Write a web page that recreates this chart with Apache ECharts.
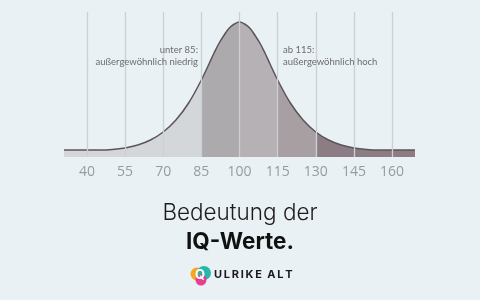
<!DOCTYPE html>
<html>
<head>
<meta charset="utf-8">
<script src="https://cdn.jsdelivr.net/npm/echarts@6/dist/echarts.min.js"></script>
<style>
html,body{margin:0;padding:0;background:#e9f1f4;}
#chart{width:480px;height:300px;}
</style>
</head>
<body>
<div id="chart"></div>
<script>
// IQ score (x) and curve height above the axis (y)
const iqValues = [31, 40, 45, 50, 55, 60, 65, 70, 75, 80, 85, 88, 90, 92, 94, 96, 98, 100,
                  102, 104, 106, 108, 110, 112, 115, 120, 125, 130, 135, 140, 145, 150, 155, 160, 169];
const curveHeights = [7, 7, 7, 7.5, 9, 12, 17, 25, 37, 54, 77, 93, 104, 114, 122, 129, 133, 135,
                      133, 129, 122, 114, 104, 93, 77, 54, 37, 25, 17, 12, 9, 7.5, 7, 7, 7];
const tickLabels = [40, 55, 70, 85, 100, 115, 130, 145, 160];
const bandEdges = [31, 85, 100, 115, 130, 169];
const bandColors = ['#d4d7d9', '#adaaad', '#b6b1b4', '#a89fa3', '#8c7d84'];
const noteLow = ['unter 85:', 'außergewöhnlich niedrig'];
const noteHigh = ['ab 115:', 'außergewöhnlich hoch'];
const titleLine1 = 'Bedeutung der';
const titleLine2 = 'IQ-Werte.';
const brand = 'U\u2009L\u2009R\u2009I\u2009K\u2009E\u2002A\u2009L\u2009T';

const points = iqValues.map((x, i) => [x, curveHeights[i]]);

const bandSeries = [];
for (let b = 0; b < bandColors.length; b++) {
  const lo = bandEdges[b], hi = bandEdges[b + 1];
  bandSeries.push({
    type: 'line',
    data: points.filter(p => p[0] >= lo && p[0] <= hi),
    smooth: 0.4,
    symbol: 'none',
    lineStyle: { width: 0 },
    areaStyle: { color: bandColors[b], opacity: 1 },
    z: 1,
    silent: true
  });
}

const noteStyle = { font: '9.5px Lato', fill: '#6c6c6e' };

const chart = echarts.init(document.getElementById('chart'));
chart.setOption({
  backgroundColor: '#e9f1f4',
  animation: false,
  grid: { left: 64, right: 65, top: 7, bottom: 143 },
  xAxis: {
    type: 'value', min: 31, max: 169,
    axisLine: { show: false }, axisTick: { show: false }, splitLine: { show: false },
    axisLabel: {
      customValues: tickLabels,
      color: '#959ca1', fontFamily: 'Open Sans', fontSize: 14, margin: 8
    }
  },
  yAxis: {
    type: 'value', min: 0, max: 150,
    show: false, splitLine: { show: false }
  },
  series: bandSeries.concat([{
    type: 'line',
    data: points,
    smooth: 0.4,
    symbol: 'none',
    lineStyle: { color: '#5c5459', width: 1.5 },
    z: 3,
    silent: true,
    markLine: {
      silent: true,
      symbol: 'none',
      label: { show: false },
      lineStyle: { color: '#cbd0d3', width: 1.3, type: 'solid', opacity: 1 },
      z: 5,
      data: tickLabels.map(v => [{ coord: [v, 0] }, { coord: [v, 145] }])
    }
  }]),
  graphic: [
    { type: 'text', right: 282, top: 45, z: 100,
      style: Object.assign({ text: noteLow[0], textAlign: 'right' }, noteStyle) },
    { type: 'text', right: 282, top: 57, z: 100,
      style: Object.assign({ text: noteLow[1], textAlign: 'right' }, noteStyle) },
    { type: 'text', left: 283, top: 45, z: 100,
      style: Object.assign({ text: noteHigh[0] }, noteStyle) },
    { type: 'text', left: 283, top: 57, z: 100,
      style: Object.assign({ text: noteHigh[1] }, noteStyle) },
    { type: 'text', left: 'center', top: 202, z: 100,
      style: { text: titleLine1, font: '300 22.5px Inter', fill: '#1c1c1c' } },
    { type: 'text', left: 'center', top: 231, z: 100,
      style: { text: titleLine2, font: 'bold 22.5px Inter', fill: '#111111' } },
    { type: 'circle', z: 100, shape: { cx: 197, cy: 274, r: 6.5 }, style: { fill: '#f6a623' } },
    { type: 'circle', z: 101, shape: { cx: 204, cy: 273, r: 7 }, style: { fill: '#1fb3a8', opacity: 0.95 } },
    { type: 'circle', z: 102, shape: { cx: 201, cy: 280, r: 5.5 }, style: { fill: '#e8348c', opacity: 0.95 } },
    { type: 'text', z: 103, x: 200, y: 275,
      style: { text: 'Q', font: 'bold 13px Inter', fill: '#ffffff', textAlign: 'center', textVerticalAlign: 'middle' } },
    { type: 'text', left: 214, top: 269, z: 100,
      style: { text: brand, font: 'bold 11px Inter', fill: '#1a1a1a' } }
  ]
});
</script>
</body>
</html>
